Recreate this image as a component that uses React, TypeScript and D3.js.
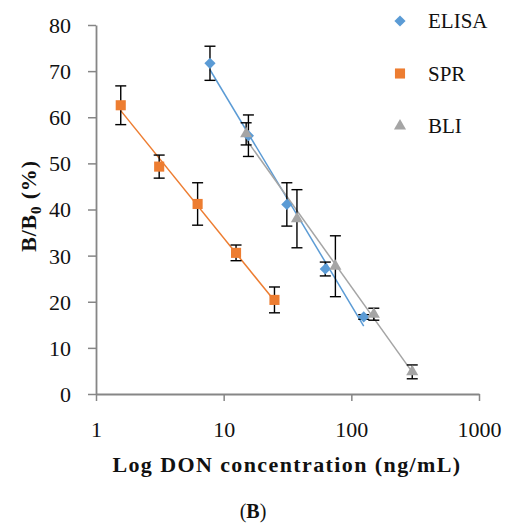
import React, { useEffect, useRef } from "react";
import * as d3 from "d3";

// concentrations (ng/mL), B/B0 means (%) and error bars
const elisaConc = [7.8125, 15.625, 31.25, 62.5, 125];
const elisaMean = [71.7, 56.0, 41.1, 27.1, 16.7];
const elisaErr = [3.7, 4.5, 4.7, 1.5, 0.5];

const sprConc = [1.5625, 3.125, 6.25, 12.5, 25];
const sprMean = [62.6, 49.3, 41.2, 30.6, 20.4];
const sprErr = [4.2, 2.5, 4.6, 1.7, 2.8];

const bliConc = [15, 37.5, 75, 150, 300];
const bliMean = [56.4, 38.0, 27.7, 17.3, 4.8];
const bliErr = [2.4, 6.3, 6.6, 1.3, 1.5];

const xTicks = [1, 10, 100, 1000];
const yTicks = [0, 10, 20, 30, 40, 50, 60, 70, 80];

const FONT = "'Liberation Serif', 'Times New Roman', serif";

const series = [
  { name: "ELISA", conc: elisaConc, mean: elisaMean, err: elisaErr, color: "#5B9BD5", symbol: d3.symbolDiamond2, size: 80 },
  { name: "SPR", conc: sprConc, mean: sprMean, err: sprErr, color: "#ED7D31", symbol: d3.symbolSquare2, size: 130 },
  { name: "BLI", conc: bliConc, mean: bliMean, err: bliErr, color: "#A5A5A5", symbol: d3.symbolTriangle2, size: 105 },
];

// least squares fit of y on log10(x), like the Excel log trendline
function fit(xs: number[], ys: number[]) {
  const lx = xs.map(v => Math.log10(v));
  const mx = d3.mean(lx)!, my = d3.mean(ys)!;
  let num = 0, den = 0;
  lx.forEach((v, i) => { num += (v - mx) * (ys[i] - my); den += (v - mx) ** 2; });
  const b = num / den;
  const a = my - b * mx;
  return (x: number) => a + b * Math.log10(x);
}

const App = () => {
  const ref = useRef<SVGSVGElement>(null);

  useEffect(() => {
    const width = 505, height = 527;
    const svg = d3.select(ref.current).attr("width", width).attr("height", height);
    svg.selectAll("*").remove();

    const x = d3.scaleLog().domain([1, 1000]).range([96, 479]);
    const y = d3.scaleLinear().domain([0, 80]).range([394, 25]);
    const axisColor = "#868686";

    // x axis
    const gx = svg.append("g")
      .attr("transform", `translate(0,${y(0)})`)
      .call(d3.axisBottom(x).tickValues(xTicks).tickFormat(d3.format("d")).tickSize(7).tickSizeOuter(0));
    gx.select(".domain").attr("stroke", axisColor).attr("stroke-width", 1.8);
    gx.selectAll(".tick line").attr("stroke", axisColor).attr("stroke-width", 1.5);
    gx.selectAll(".tick text")
      .attr("y", 43).attr("dy", 0)
      .attr("font-family", FONT).attr("font-size", 22).attr("fill", "#111");

    // y axis
    const gy = svg.append("g")
      .attr("transform", `translate(${x(1)},0)`)
      .call(d3.axisLeft(y).tickValues(yTicks).tickSize(8).tickSizeOuter(0));
    gy.select(".domain").attr("stroke", axisColor).attr("stroke-width", 1.8);
    gy.selectAll(".tick line").attr("stroke", axisColor).attr("stroke-width", 1.5);
    gy.selectAll(".tick text")
      .attr("x", -25).attr("dy", "0.34em")
      .attr("font-family", FONT).attr("font-size", 22).attr("fill", "#111");

    // trendlines
    series.forEach(s => {
      const f = fit(s.conc, s.mean);
      const x0 = d3.min(s.conc)!, x1 = d3.max(s.conc)!;
      svg.append("line")
        .attr("x1", x(x0)).attr("y1", y(f(x0)))
        .attr("x2", x(x1)).attr("y2", y(f(x1)))
        .attr("stroke", s.color).attr("stroke-width", 1.5);
    });

    // error bars
    series.forEach(s => {
      const g = svg.append("g").attr("stroke", "#000").attr("stroke-width", 1.4);
      s.conc.forEach((c, i) => {
        const cx = x(c);
        const top = y(s.mean[i] + s.err[i]);
        const bot = y(s.mean[i] - s.err[i]);
        g.append("line").attr("x1", cx).attr("x2", cx).attr("y1", top).attr("y2", bot);
        g.append("line").attr("x1", cx - 5.5).attr("x2", cx + 5.5).attr("y1", top).attr("y2", top);
        g.append("line").attr("x1", cx - 5.5).attr("x2", cx + 5.5).attr("y1", bot).attr("y2", bot);
      });
    });

    // markers
    series.forEach(s => {
      const sym = d3.symbol().type(s.symbol).size(s.size);
      svg.append("g").selectAll("path")
        .data(s.conc.map((c, i) => [c, s.mean[i]]))
        .enter()
        .append("path")
        .attr("d", sym)
        .attr("transform", d => `translate(${x(d[0])},${y(d[1])})`)
        .attr("fill", s.color);
    });

    // legend
    series.forEach((s, i) => {
      const ly = 21 + i * 52.5;
      svg.append("path")
        .attr("d", d3.symbol().type(s.symbol).size(s.size)())
        .attr("transform", `translate(400,${ly})`)
        .attr("fill", s.color);
      svg.append("text")
        .attr("x", 428).attr("y", ly + 7)
        .attr("font-family", FONT).attr("font-size", 21).attr("fill", "#111")
        .text(s.name);
    });

    // axis titles
    svg.append("text")
      .attr("x", 287).attr("y", 472)
      .attr("text-anchor", "middle")
      .attr("font-family", FONT).attr("font-size", 22).attr("font-weight", "bold")
      .attr("letter-spacing", 1.4).attr("fill", "#111")
      .text("Log DON concentration (ng/mL)");

    const yt = svg.append("text")
      .attr("transform", "translate(36,206) rotate(-90)")
      .attr("text-anchor", "middle")
      .attr("font-family", FONT).attr("font-size", 22).attr("font-weight", "bold")
      .attr("letter-spacing", 0.8).attr("fill", "#111");
    yt.append("tspan").text("B/B");
    yt.append("tspan").attr("font-size", 15).attr("dy", 5).text("0");
    yt.append("tspan").attr("dy", -5).text(" (%)");

    // panel caption
    const cap = svg.append("text")
      .attr("x", 253).attr("y", 518)
      .attr("text-anchor", "middle")
      .attr("font-family", FONT).attr("font-size", 20).attr("fill", "#111");
    cap.append("tspan").text("(");
    cap.append("tspan").attr("font-weight", "bold").text("B");
    cap.append("tspan").text(")");
  }, []);

  return (
    <svg ref={ref} style={{ position: "absolute", left: 0, top: 0, background: "#fff" }}></svg>
  );
};

export default App;
